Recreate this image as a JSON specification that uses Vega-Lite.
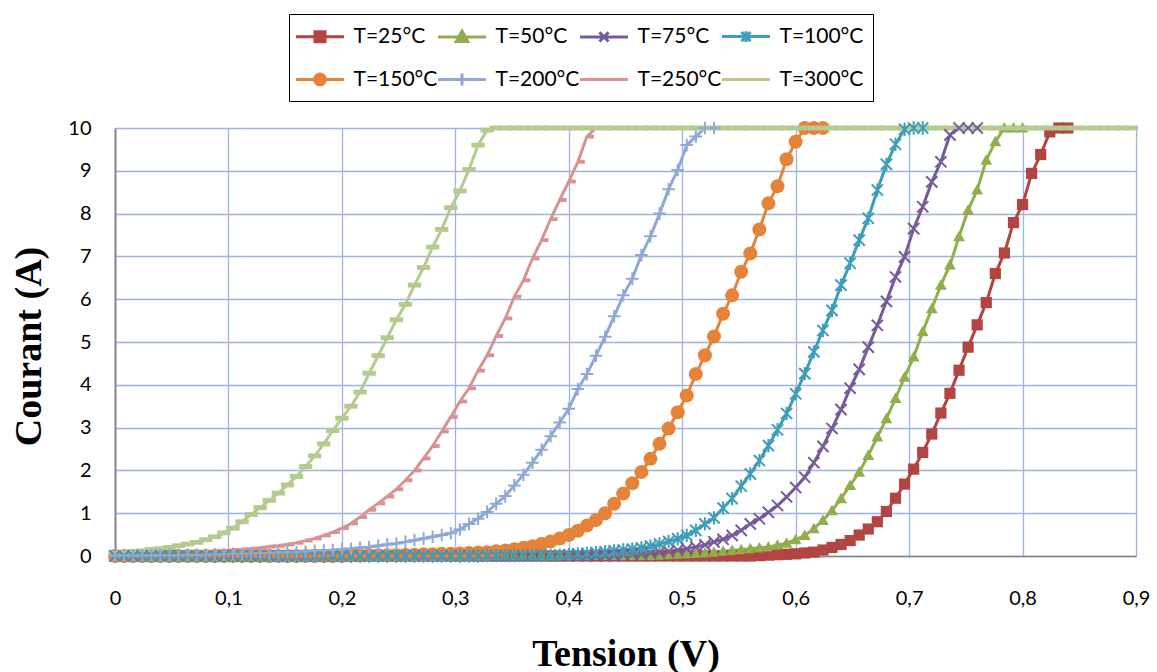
{
"$schema": "https://vega.github.io/schema/vega-lite/v6.json",
"width": 1021,
"height": 428,
"autosize": {"type": "none"},
"padding": {"left": 115, "top": 128, "right": 21, "bottom": 116},
"background": "white",
"config": {"view": {"stroke": null}, "font": "Lato"},
"data": {"values": [
{"v":0,"a":0,"b":0,"c":0,"d":0,"e":0,"f":0.01,"g":0.02,"h":0.06},
{"v":0.008,"a":0,"b":0,"c":0,"d":0,"e":0,"f":0.01,"g":0.02,"h":0.08},
{"v":0.016,"a":0,"b":0,"c":0,"d":0,"e":0,"f":0.01,"g":0.03,"h":0.1},
{"v":0.024,"a":0,"b":0,"c":0,"d":0,"e":0,"f":0.01,"g":0.03,"h":0.12},
{"v":0.032,"a":0,"b":0,"c":0,"d":0,"e":0,"f":0.02,"g":0.04,"h":0.15},
{"v":0.04,"a":0,"b":0,"c":0,"d":0,"e":0,"f":0.02,"g":0.05,"h":0.17},
{"v":0.048,"a":0,"b":0,"c":0,"d":0,"e":0,"f":0.02,"g":0.05,"h":0.2},
{"v":0.056,"a":0,"b":0,"c":0,"d":0,"e":0,"f":0.02,"g":0.06,"h":0.24},
{"v":0.064,"a":0,"b":0,"c":0,"d":0,"e":0,"f":0.03,"g":0.07,"h":0.28},
{"v":0.072,"a":0,"b":0,"c":0,"d":0,"e":0,"f":0.03,"g":0.08,"h":0.32},
{"v":0.08,"a":0,"b":0,"c":0,"d":0,"e":0,"f":0.03,"g":0.09,"h":0.38},
{"v":0.088,"a":0,"b":0,"c":0,"d":0,"e":0,"f":0.04,"g":0.11,"h":0.45},
{"v":0.096,"a":0,"b":0,"c":0,"d":0,"e":0,"f":0.04,"g":0.12,"h":0.54},
{"v":0.104,"a":0,"b":0,"c":0,"d":0,"e":0,"f":0.05,"g":0.14,"h":0.65},
{"v":0.112,"a":0,"b":0,"c":0,"d":0,"e":0,"f":0.05,"g":0.15,"h":0.8},
{"v":0.12,"a":0,"b":0,"c":0,"d":0,"e":0,"f":0.06,"g":0.17,"h":0.97},
{"v":0.128,"a":0,"b":0,"c":0,"d":0,"e":0,"f":0.07,"g":0.19,"h":1.13},
{"v":0.136,"a":0,"b":0,"c":0,"d":0,"e":0,"f":0.07,"g":0.22,"h":1.3},
{"v":0.144,"a":0,"b":0,"c":0,"d":0,"e":0,"f":0.08,"g":0.24,"h":1.47},
{"v":0.152,"a":0,"b":0,"c":0,"d":0,"e":0,"f":0.09,"g":0.27,"h":1.66},
{"v":0.16,"a":0,"b":0,"c":0,"d":0,"e":0,"f":0.09,"g":0.31,"h":1.86},
{"v":0.168,"a":0,"b":0,"c":0,"d":0,"e":0,"f":0.1,"g":0.36,"h":2.09},
{"v":0.176,"a":0,"b":0,"c":0,"d":0,"e":0,"f":0.12,"g":0.41,"h":2.34},
{"v":0.184,"a":0,"b":0,"c":0,"d":0,"e":0,"f":0.13,"g":0.48,"h":2.62},
{"v":0.192,"a":0,"b":0,"c":0,"d":0,"e":0,"f":0.14,"g":0.56,"h":2.93},
{"v":0.2,"a":0,"b":0,"c":0,"d":0,"e":0,"f":0.16,"g":0.65,"h":3.22},
{"v":0.208,"a":0,"b":0,"c":0,"d":0,"e":0.01,"f":0.17,"g":0.76,"h":3.5},
{"v":0.216,"a":0,"b":0,"c":0,"d":0,"e":0.01,"f":0.19,"g":0.91,"h":3.83},
{"v":0.224,"a":0,"b":0,"c":0,"d":0,"e":0.02,"f":0.21,"g":1.08,"h":4.27},
{"v":0.232,"a":0,"b":0,"c":0,"d":0,"e":0.02,"f":0.24,"g":1.23,"h":4.68},
{"v":0.24,"a":0,"b":0,"c":0,"d":0,"e":0.02,"f":0.27,"g":1.39,"h":5.1},
{"v":0.248,"a":0,"b":0,"c":0,"d":0,"e":0.02,"f":0.29,"g":1.56,"h":5.52},
{"v":0.256,"a":0,"b":0,"c":0,"d":0,"e":0.03,"f":0.33,"g":1.77,"h":5.88},
{"v":0.264,"a":0,"b":0,"c":0,"d":0,"e":0.03,"f":0.37,"g":2,"h":6.33},
{"v":0.272,"a":0,"b":0,"c":0,"d":0,"e":0.04,"f":0.41,"g":2.28,"h":6.74},
{"v":0.28,"a":0,"b":0,"c":0,"d":0,"e":0.04,"f":0.45,"g":2.57,"h":7.22},
{"v":0.288,"a":0,"b":0,"c":0,"d":0,"e":0.05,"f":0.49,"g":2.91,"h":7.63},
{"v":0.296,"a":0,"b":0,"c":0,"d":0,"e":0.05,"f":0.53,"g":3.25,"h":8.14},
{"v":0.304,"a":0,"b":0,"c":0,"d":0,"e":0.06,"f":0.62,"g":3.61,"h":8.53},
{"v":0.312,"a":0,"b":0,"c":0,"d":0,"e":0.07,"f":0.75,"g":3.92,"h":9.03},
{"v":0.32,"a":0,"b":0,"c":0,"d":0,"e":0.08,"f":0.87,"g":4.33,"h":9.6},
{"v":0.328,"a":0,"b":0,"c":0,"d":0.01,"e":0.09,"f":1.03,"g":4.69,"h":9.95},
{"v":0.336,"a":0,"b":0.01,"c":0,"d":0.01,"e":0.11,"f":1.22,"g":5.14,"h":10},
{"v":0.344,"a":0,"b":0.01,"c":0,"d":0.01,"e":0.13,"f":1.4,"g":5.55,"h":10},
{"v":0.352,"a":0,"b":0.01,"c":0,"d":0.01,"e":0.16,"f":1.65,"g":6.06,"h":10},
{"v":0.36,"a":0,"b":0.01,"c":0,"d":0.01,"e":0.19,"f":1.9,"g":6.44,"h":10},
{"v":0.368,"a":0,"b":0.01,"c":0.01,"d":0.01,"e":0.23,"f":2.18,"g":6.95,"h":10},
{"v":0.376,"a":0,"b":0.01,"c":0.01,"d":0.01,"e":0.28,"f":2.48,"g":7.38,"h":10},
{"v":0.384,"a":0,"b":0.01,"c":0.01,"d":0.01,"e":0.34,"f":2.8,"g":7.87,"h":10},
{"v":0.392,"a":0,"b":0.01,"c":0.01,"d":0.02,"e":0.41,"f":3.12,"g":8.32,"h":10},
{"v":0.4,"a":0,"b":0.01,"c":0.01,"d":0.03,"e":0.49,"f":3.44,"g":8.75,"h":10},
{"v":0.408,"a":0,"b":0.01,"c":0.01,"d":0.05,"e":0.59,"f":3.9,"g":9.21,"h":10},
{"v":0.416,"a":0,"b":0.01,"c":0.01,"d":0.06,"e":0.71,"f":4.25,"g":9.8,"h":10},
{"v":0.424,"a":0,"b":0.01,"c":0.01,"d":0.08,"e":0.84,"f":4.68,"g":10,"h":10},
{"v":0.432,"a":0,"b":0.01,"c":0.01,"d":0.1,"e":1,"f":5.12,"g":10,"h":10},
{"v":0.44,"a":0,"b":0.01,"c":0.02,"d":0.12,"e":1.22,"f":5.6,"g":10,"h":10},
{"v":0.448,"a":0,"b":0.01,"c":0.03,"d":0.14,"e":1.46,"f":6.09,"h":10},
{"v":0.456,"a":0,"b":0.01,"c":0.04,"d":0.16,"e":1.7,"f":6.48,"h":10},
{"v":0.464,"a":0,"b":0.01,"c":0.05,"d":0.19,"e":1.96,"f":7.03,"h":10},
{"v":0.472,"a":0,"b":0.01,"c":0.07,"d":0.23,"e":2.27,"f":7.47,"h":10},
{"v":0.48,"a":0,"b":0.02,"c":0.09,"d":0.28,"e":2.62,"f":8,"h":10},
{"v":0.488,"a":0,"b":0.03,"c":0.11,"d":0.34,"e":2.98,"f":8.57,"h":10},
{"v":0.496,"a":0,"b":0.04,"c":0.14,"d":0.4,"e":3.36,"f":9.02,"h":10},
{"v":0.504,"a":0,"b":0.05,"c":0.17,"d":0.48,"e":3.75,"f":9.6,"h":10},
{"v":0.512,"a":0,"b":0.06,"c":0.21,"d":0.6,"e":4.25,"f":9.8,"h":10},
{"v":0.52,"a":0,"b":0.07,"c":0.26,"d":0.75,"e":4.69,"f":10,"h":10},
{"v":0.528,"a":0,"b":0.09,"c":0.33,"d":0.89,"e":5.13,"f":10,"h":10},
{"v":0.536,"a":0,"b":0.11,"c":0.39,"d":1.12,"e":5.66,"h":10},
{"v":0.544,"a":0,"b":0.13,"c":0.48,"d":1.34,"e":6.09,"h":10},
{"v":0.552,"a":0,"b":0.15,"c":0.6,"d":1.63,"e":6.64,"h":10},
{"v":0.56,"a":0,"b":0.17,"c":0.75,"d":1.92,"e":7.07,"h":10},
{"v":0.568,"a":0.01,"b":0.19,"c":0.87,"d":2.23,"e":7.63,"h":10},
{"v":0.576,"a":0.02,"b":0.21,"c":1.02,"d":2.58,"e":8.24,"h":10},
{"v":0.584,"a":0.03,"b":0.25,"c":1.18,"d":2.95,"e":8.64,"h":10},
{"v":0.592,"a":0.04,"b":0.3,"c":1.38,"d":3.33,"e":9.27,"h":10},
{"v":0.6,"a":0.05,"b":0.38,"c":1.6,"d":3.79,"e":9.68,"h":10},
{"v":0.608,"a":0.07,"b":0.48,"c":1.84,"d":4.26,"e":10,"h":10},
{"v":0.616,"a":0.09,"b":0.64,"c":2.18,"d":4.77,"e":10,"h":10},
{"v":0.624,"a":0.14,"b":0.83,"c":2.56,"d":5.27,"e":10,"h":10},
{"v":0.632,"a":0.2,"b":1.06,"c":2.98,"d":5.74,"h":10},
{"v":0.64,"a":0.27,"b":1.34,"c":3.42,"d":6.33,"h":10},
{"v":0.648,"a":0.36,"b":1.65,"c":3.92,"d":6.84,"h":10},
{"v":0.656,"a":0.49,"b":1.96,"c":4.36,"d":7.38,"h":10},
{"v":0.664,"a":0.63,"b":2.35,"c":4.88,"d":7.89,"h":10},
{"v":0.672,"a":0.8,"b":2.78,"c":5.39,"d":8.55,"h":10},
{"v":0.68,"a":1.04,"b":3.21,"c":5.95,"d":9.15,"h":10},
{"v":0.688,"a":1.35,"b":3.68,"c":6.52,"d":9.62,"h":10},
{"v":0.696,"a":1.68,"b":4.18,"c":6.99,"d":9.97,"h":10},
{"v":0.704,"a":2.03,"b":4.65,"c":7.65,"d":10,"h":10},
{"v":0.712,"a":2.42,"b":5.24,"c":8.16,"d":10,"h":10},
{"v":0.72,"a":2.85,"b":5.78,"c":8.74,"h":10},
{"v":0.728,"a":3.34,"b":6.33,"c":9.21,"h":10},
{"v":0.736,"a":3.8,"b":6.8,"c":9.84,"h":10},
{"v":0.744,"a":4.34,"b":7.46,"c":10,"h":10},
{"v":0.752,"a":4.88,"b":8.08,"c":10,"h":10},
{"v":0.76,"a":5.4,"b":8.55,"c":10,"h":10},
{"v":0.768,"a":5.92,"b":9.25,"h":10},
{"v":0.776,"a":6.6,"b":9.68,"h":10},
{"v":0.784,"a":7.08,"b":10,"h":10},
{"v":0.792,"a":7.79,"b":10,"h":10},
{"v":0.8,"a":8.21,"b":10,"h":10},
{"v":0.808,"a":8.94,"h":10},
{"v":0.816,"a":9.38,"h":10},
{"v":0.824,"a":9.91,"h":10},
{"v":0.832,"a":10,"h":10},
{"v":0.84,"a":10,"h":10},
{"v":0.848,"h":10},
{"v":0.856,"h":10},
{"v":0.864,"h":10},
{"v":0.872,"h":10},
{"v":0.88,"h":10},
{"v":0.888,"h":10},
{"v":0.896,"h":10}
]},
"transform": [
  {"fold": ["a","b","c","d","e","f","g","h"], "as": ["s","i"]},
  {"filter": "isValid(datum.i)"}
],
"encoding": {
  "x": {"field": "v", "type": "quantitative",
    "scale": {"domain": [0, 0.9], "nice": false, "zero": false},
    "axis": {"values": [0,0.1,0.2,0.3,0.4,0.5,0.6,0.7,0.8,0.9],
      "labelExpr": "replace(format(datum.value, '.1~f'), '.', ',')",
      "labelFont": "Lato", "labelFontSize": 20, "labelColor": "black",
      "labelBaseline": "alphabetic", "labelPadding": 48, "labelFlush": false,
      "ticks": false, "tickSize": 0,
      "domainColor": "#868686", "domainWidth": 1.5,
      "grid": true, "gridColor": "#9db5da", "gridWidth": 1.3,
      "title": "Tension (V)", "titleFont": "Liberation Serif", "titleFontSize": 38,
      "titleFontWeight": "bold", "titleColor": "black",
      "titleBaseline": "alphabetic", "titleY": 109}},
  "y": {"field": "i", "type": "quantitative",
    "scale": {"domain": [0, 10], "nice": false},
    "axis": {"values": [0,1,2,3,4,5,6,7,8,9,10],
      "labelFont": "Lato", "labelFontSize": 20, "labelColor": "black",
      "labelPadding": 24, "ticks": false, "tickSize": 0,
      "domainColor": "#868686", "domainWidth": 2,
      "grid": true, "gridColor": "#9db5da", "gridWidth": 1.3,
      "title": "Courant (A)", "titleFont": "Liberation Serif", "titleFontSize": 38,
      "titleFontWeight": "bold", "titleColor": "black",
      "titleBaseline": "alphabetic", "titleX": -75, "titleY": 218}},
  "color": {"field": "s", "type": "nominal",
    "scale": {"domain": ["a","b","c","d","e","f","g","h"],
      "range": ["#B24541","#8FAE4C","#765A9B","#3E9DB8","#E5833A","#8EA9D6","#D69392","#B3CB8E"]},
    "legend": {"orient": "none", "legendX": 174, "legendY": -114,
      "columns": 4, "direction": "horizontal", "title": null,
      "labelExpr": "datum.label=='a'?'T=25°C':datum.label=='b'?'T=50°C':datum.label=='c'?'T=75°C':datum.label=='d'?'T=100°C':datum.label=='e'?'T=150°C':datum.label=='f'?'T=200°C':datum.label=='g'?'T=250°C':'T=300°C'",
      "labelFont": "Lato", "labelFontSize": 21, "labelColor": "black", "labelLimit": 300,
      "labelOffset": 20, "symbolSize": 576, "symbolStrokeWidth": 3, "symbolOffset": 8.5,
      "columnPadding": -6, "rowPadding": 18, "padding": 9,
      "strokeColor": "black", "fillColor": "white",
      "encode": {"symbols": {"update": {
        "shape": {"signal": "datum.value=='a'?'M-2,0H2M-0.42,-0.42H0.42V0.42H-0.42Z':datum.value=='b'?'M-2,0H2M0,-0.5L0.48,0.36H-0.48Z':datum.value=='c'?'M-2,0H2M-0.38,-0.38L0.38,0.38M-0.38,0.38L0.38,-0.38':datum.value=='d'?'M-2,0H2M-0.38,-0.38L0.38,0.38M-0.38,0.38L0.38,-0.38M0,-0.45V0.45':datum.value=='e'?'M-2,0H2M-0.45,0A0.45,0.45 0 1,0 0.45,0A0.45,0.45 0 1,0 -0.45,0Z':datum.value=='f'?'M-2,0H2M0,-0.5V0.5':'M-2,0H2'"},
        "fill": {"scale": "color", "field": "value"},
        "stroke": {"scale": "color", "field": "value"},
        "strokeWidth": {"value": 3},
        "opacity": {"value": 1}}}}}}
},
"layer": [
  {"mark": {"type": "line", "strokeWidth": 3}},
  {"transform": [{"filter": {"field": "s", "oneOf": ["a","b","e","g","h"]}}],
   "mark": {"type": "point", "filled": true, "opacity": 1, "size": 196},
   "encoding": {"shape": {"field": "s", "type": "nominal",
     "scale": {"domain": ["a","b","e","g","h"],
       "range": ["M-0.8,-0.8H0.8V0.8H-0.8Z", "M0,-0.85L0.85,0.65H-0.85Z", "circle", "M0,-0.28H1V0.28H0Z", "M-0.95,-0.35H0.95V0.35H-0.95Z"]},
     "legend": null}}},
  {"transform": [{"filter": {"field": "s", "oneOf": ["c","d","f"]}}],
   "mark": {"type": "point", "filled": false, "opacity": 1, "size": 196, "strokeWidth": 2},
   "encoding": {"shape": {"field": "s", "type": "nominal",
     "scale": {"domain": ["c","d","f"],
       "range": ["M-0.8,-0.8L0.8,0.8M-0.8,0.8L0.8,-0.8", "M-0.8,-0.8L0.8,0.8M-0.8,0.8L0.8,-0.8M0,-0.95V0.95", "M-0.9,0H0.9M0,-0.9V0.9"]},
     "legend": null}}}
],
"resolve": {"scale": {"shape": "independent"}}
}
